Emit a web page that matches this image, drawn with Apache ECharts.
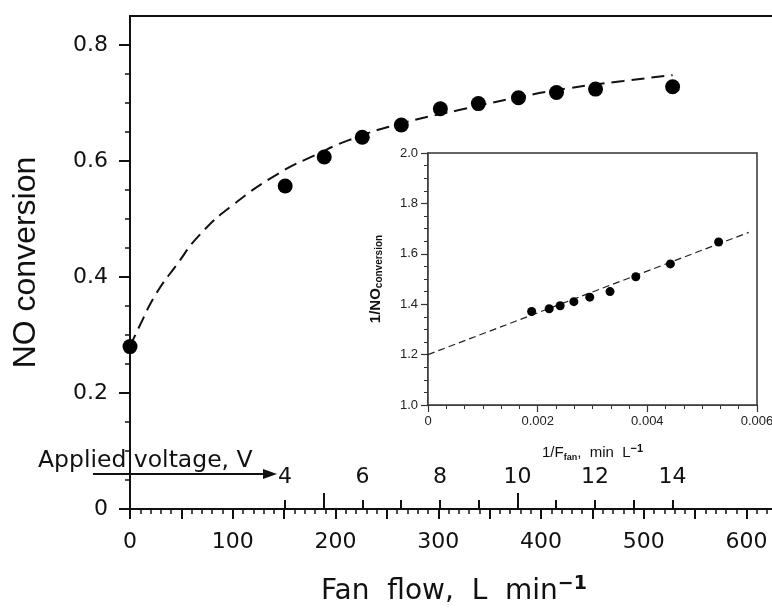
<!DOCTYPE html>
<html>
<head>
<meta charset="utf-8">
<script src="https://cdn.jsdelivr.net/npm/echarts@6/dist/echarts.min.js"></script>
<style>html,body{margin:0;padding:0;background:#fff}#c{width:772px;height:611px}</style>
</head>
<body>
<div id="c"></div>
<script>
// ---- main plot data (NO conversion vs fan flow) ----
const flowData = [0, 151, 189, 226, 264, 302, 339, 378, 415, 453, 528];
const conversion = [0.280, 0.557, 0.607, 0.641, 0.662, 0.690, 0.699, 0.709, 0.718, 0.724, 0.728];
// dashed fitted curve
const fitFlow = [0, 10, 25, 45, 68, 100, 145, 180, 213, 260, 318, 370, 425, 480, 528];
const fitConv = [0.28, 0.318, 0.37, 0.42, 0.473, 0.524, 0.579, 0.61, 0.636, 0.663, 0.687, 0.707, 0.725, 0.738, 0.748];

// ---- inset data (1/NO conversion vs 1/F fan) ----
const invFlow = [0.00189, 0.00221, 0.00241, 0.00266, 0.00295, 0.00332, 0.00379, 0.00442, 0.00530];
const invConv = [1.371, 1.382, 1.394, 1.410, 1.428, 1.450, 1.509, 1.560, 1.647];
const invFitX = [0, 0.00585];
const invFitY = [1.2, 1.685];

// ---- tick labels ----
const xLabels = [0, 100, 200, 300, 400, 500, 600];
const yMajor = [0, 0.2, 0.4, 0.6, 0.8];
const yMinor = [0.05, 0.1, 0.15, 0.25, 0.3, 0.35, 0.45, 0.5, 0.55, 0.65, 0.7, 0.75];
const voltLabels = [4, 6, 8, 10, 12, 14];
const voltTicks = [4, 6, 7, 8, 9, 11, 12, 13, 14];
const voltLongTicks = [5, 10];
const flowPerVolt = 37.7;   // fan flow (L/min) per applied volt
const flowMax = 650;

const chart = echarts.init(document.getElementById('c'));
const F = 'DejaVu Sans';
const pair = (a, b) => a.map((v, i) => [v, b[i]]);

chart.setOption({
  animation: false,
  backgroundColor: '#fff',
  grid: [
    {left: 130, width: 668, top: 16, height: 493, outerBoundsMode: 'none', containLabel: false,
      show: true, borderColor: '#111', borderWidth: 2, backgroundColor: 'transparent'},
    {left: 428, width: 329, top: 153, height: 252, outerBoundsMode: 'none', containLabel: false,
      show: true, borderColor: '#333', borderWidth: 1.5, backgroundColor: '#fff', z: 5}
  ],
  xAxis: [
    {
      gridIndex: 0, type: 'value', position: 'bottom', min: 0, max: flowMax, interval: 50,
      axisLine: {lineStyle: {color: '#111', width: 2}},
      axisTick: {length: 10, lineStyle: {color: '#111', width: 2}},
      minorTick: {show: true, splitNumber: 5, length: 5, lineStyle: {color: '#111', width: 1.5}},
      splitLine: {show: false},
      axisLabel: {customValues: xLabels, margin: 22, fontFamily: F, fontSize: 22, color: '#111'},
      name: 'Fan  flow,  L  min{sup|−1}', nameLocation: 'middle', nameGap: 66,
      nameTextStyle: {fontFamily: F, fontSize: 28, color: '#111', padding: [0, 20, 0, 0],
        rich: {sup: {fontFamily: F, fontSize: 19, fontWeight: 'bold', color: '#111', verticalAlign: 'top', padding: [0, 0, 14, 0]}}}
    },
    {
      gridIndex: 0, type: 'value', position: 'bottom', min: 0, max: flowMax / flowPerVolt,
      axisLine: {show: false}, splitLine: {show: false},
      axisTick: {inside: true, length: 9, customValues: voltTicks, lineStyle: {color: '#111', width: 2}},
      axisLabel: {inside: true, margin: 21, customValues: voltLabels, fontFamily: F, fontSize: 22, color: '#111'}
    },
    {
      gridIndex: 0, type: 'value', position: 'bottom', min: 0, max: flowMax / flowPerVolt,
      axisLine: {show: false}, splitLine: {show: false},
      axisTick: {inside: true, length: 16, customValues: voltLongTicks, lineStyle: {color: '#111', width: 2}},
      axisLabel: {show: false}
    },
    {
      gridIndex: 1, type: 'value', position: 'bottom', min: 0, max: 0.006, interval: 0.002,
      axisLine: {lineStyle: {color: '#333', width: 1.5}},
      axisTick: {length: 7, lineStyle: {color: '#333', width: 1.2}},
      minorTick: {show: true, splitNumber: 6, length: 4, lineStyle: {color: '#333', width: 1}},
      splitLine: {show: false},
      axisLabel: {margin: 10, fontFamily: 'Liberation Sans', fontSize: 13, color: '#222',
        formatter: v => v === 0 ? '0' : v.toFixed(3)},
      name: '1/F{sub|fan}{a|,  min  L}{sup|−1}', nameLocation: 'middle', nameGap: 38,
      nameTextStyle: {fontFamily: 'Liberation Sans', fontSize: 15, color: '#111',
        rich: {
          a: {fontFamily: 'Liberation Sans', fontSize: 15, color: '#111'},
          sub: {fontFamily: 'Liberation Sans', fontSize: 9, fontWeight: 'bold', color: '#111', verticalAlign: 'bottom', padding: [6, 0, 0, 0]},
          sup: {fontFamily: 'Liberation Sans', fontSize: 11, fontWeight: 'bold', color: '#111', verticalAlign: 'top', padding: [0, 0, 8, 0]}
        }}
    }
  ],
  yAxis: [
    {
      gridIndex: 0, type: 'value', position: 'left', min: 0, max: 0.85,
      axisLine: {lineStyle: {color: '#111', width: 2}},
      axisTick: {length: 5, customValues: yMinor, lineStyle: {color: '#111', width: 1.5}},
      splitLine: {show: false},
      axisLabel: {customValues: yMajor, margin: 22, fontFamily: F, fontSize: 22, color: '#111',
        formatter: v => v === 0 ? '0' : v.toFixed(1)},
      name: 'NO conversion', nameLocation: 'middle', nameGap: 88, nameRotate: 90,
      nameTextStyle: {fontFamily: 'Liberation Sans', fontSize: 32, color: '#111'}
    },
    {
      gridIndex: 0, type: 'value', position: 'left', min: 0, max: 0.85,
      axisLine: {show: false}, splitLine: {show: false},
      axisTick: {length: 11, customValues: yMajor, lineStyle: {color: '#111', width: 2}},
      axisLabel: {show: false}
    },
    {
      gridIndex: 1, type: 'value', position: 'left', min: 1.0, max: 2.0, interval: 0.2,
      axisLine: {lineStyle: {color: '#333', width: 1.5}},
      axisTick: {length: 7, lineStyle: {color: '#333', width: 1.2}},
      minorTick: {show: true, splitNumber: 4, length: 4, lineStyle: {color: '#333', width: 1}},
      splitLine: {show: false},
      axisLabel: {margin: 10, fontFamily: 'Liberation Sans', fontSize: 13, color: '#222',
        formatter: v => v.toFixed(1)},
      name: '1/NO{sub|conversion}', nameLocation: 'middle', nameGap: 44, nameRotate: 90,
      nameTextStyle: {fontFamily: 'Liberation Sans', fontSize: 15, fontWeight: 'bold', color: '#111',
        rich: {sub: {fontFamily: 'Liberation Sans', fontSize: 10, fontWeight: 'bold', color: '#111', verticalAlign: 'bottom', padding: [6, 0, 0, 0]}}}
    }
  ],
  series: [
    {
      type: 'line', xAxisIndex: 0, yAxisIndex: 0, data: pair(fitFlow, fitConv),
      smooth: 0.5, showSymbol: false, symbol: 'none',
      lineStyle: {color: '#111', width: 2, type: [13, 7]}, z: 2
    },
    {
      type: 'scatter', xAxisIndex: 0, yAxisIndex: 0, data: pair(flowData, conversion),
      symbol: 'circle', symbolSize: 15, itemStyle: {color: '#000', opacity: 1}, z: 3
    },
    {
      type: 'line', xAxisIndex: 3, yAxisIndex: 2, data: pair(invFitX, invFitY),
      showSymbol: false, symbol: 'none', lineStyle: {color: '#222', width: 1.2, type: [7, 4]}, z: 6
    },
    {
      type: 'scatter', xAxisIndex: 3, yAxisIndex: 2, data: pair(invFlow, invConv),
      symbol: 'circle', symbolSize: 9, itemStyle: {color: '#000', opacity: 1}, z: 7
    }
  ],
  graphic: [
    {type: 'text', left: 38, top: 449, z: 20,
      style: {text: 'Applied voltage, V', fontFamily: F, fontSize: 23.5, fill: '#111'}},
    {type: 'line', z: 20, shape: {x1: 93, y1: 474, x2: 266, y2: 474}, style: {stroke: '#111', lineWidth: 2}},
    {type: 'polygon', z: 20, shape: {points: [[263, 469], [277, 474], [263, 479]]}, style: {fill: '#111'}}
  ]
});
</script>
</body>
</html>
